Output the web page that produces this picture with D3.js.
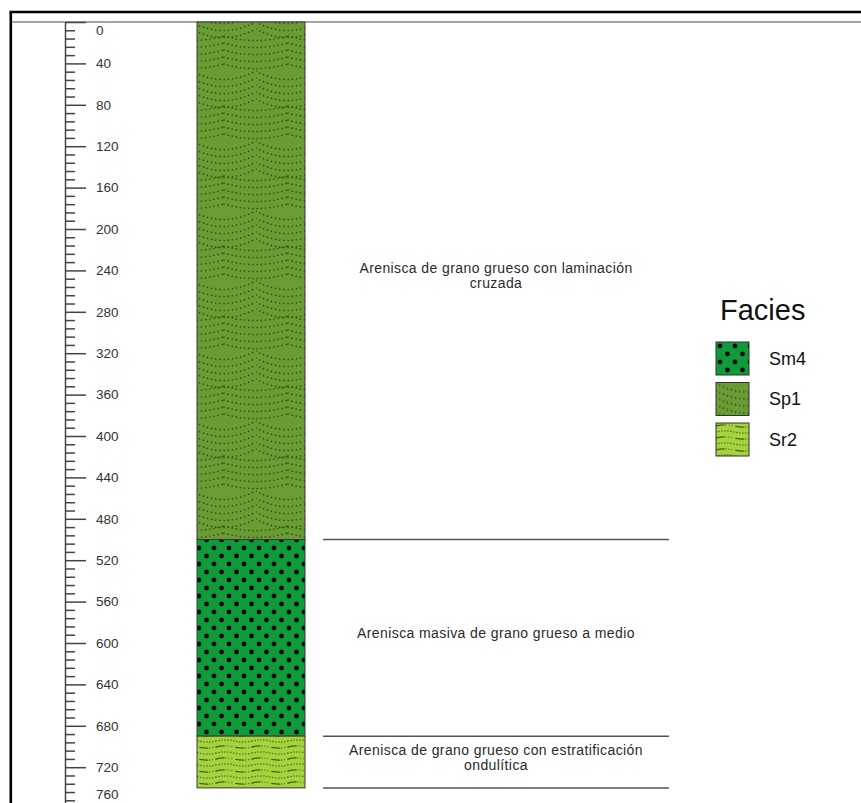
<!DOCTYPE html>
<html>
<head>
  <meta charset="UTF-8">
  <title>Columna estratigráfica</title>
  <script src="https://d3js.org/d3.v7.min.js"></script>
  <style>
    body {
      margin: 0;
      background: #fff;
      font-family: Arial, "Liberation Sans", sans-serif;
    }
    .axis text {
      font-size: 13.5px;
      fill: #333;
    }
    .axis line, .axis path {
      stroke: #444;
      stroke-width: 1.5;
    }
    .desc {
      font-size: 14px;
      letter-spacing: 0.4px;
      fill: #2a2a2a;
    }
    .layer {
      stroke: #3a3a3a;
      stroke-width: 1;
    }
  </style>
</head>
<body>
  <div id="chart"></div>
  <script>
    // layers, top to base (cm)
    const facies = ["Sp1", "Sm4", "Sr2"];
    const tops = [0, 500, 690];
    const bases = [500, 690, 740];
    const descriptions = [
      ["Arenisca de grano grueso con laminación", "cruzada"],
      ["Arenisca masiva de grano grueso a medio"],
      ["Arenisca de grano grueso con estratificación", "ondulítica"]
    ];

    // legend
    const legendTitle = "Facies";
    const legendItems = ["Sm4", "Sp1", "Sr2"];

    // depth axis
    const majorTicks = [0, 40, 80, 120, 160, 200, 240, 280, 320, 360, 400, 440, 480, 520, 560, 600, 640, 680, 720, 760];
    const minorStep = 8;

    const W = 861, H = 803;

    const svg = d3.select("#chart")
      .append("svg")
      .attr("width", W)
      .attr("height", H);

    svg.append("rect").attr("width", W).attr("height", H).attr("fill", "#fff");

    const y = d3.scaleLinear()
      .domain([0, 760])
      .range([22, 22 + 760 * 1.035]);

    const col = { x: 197, w: 108 };
    const descX = [323, 669];

    // ---- patterns ----
    const defs = svg.append("defs");

    // Sm4: massive, big black dots
    const pSm4 = defs.append("pattern")
      .attr("id", "pat-Sm4")
      .attr("patternUnits", "userSpaceOnUse")
      .attr("width", 15).attr("height", 16);
    pSm4.append("rect").attr("width", 15).attr("height", 16).attr("fill", "#109b3a");
    [[4, 4], [11.5, 12], [-3.5, 12]].forEach(p => {
      pSm4.append("circle").attr("cx", p[0]).attr("cy", p[1]).attr("r", 2.4).attr("fill", "#0a0a0a");
    });

    // Sp1: cross lamination, dotted arcs
    const pSp1 = defs.append("pattern")
      .attr("id", "pat-Sp1")
      .attr("patternUnits", "userSpaceOnUse")
      .attr("width", 64).attr("height", 70);
    pSp1.append("rect").attr("width", 64).attr("height", 70).attr("fill", "#6b9c34");
    [0, 1].forEach(s => {
      const offs = s === 0 ? [0] : [-32, 32];
      offs.forEach(xo => {
        d3.range(5).forEach(j => {
          const y0 = s * 35 + j * 7 + 1;
          const tilt = s === 0 ? 4 : -4;
          pSp1.append("path")
            .attr("d", `M${xo},${y0} Q${xo + 30},${y0 + 13 + tilt} ${xo + 64},${y0}`)
            .attr("fill", "none")
            .attr("stroke", "#2c5216")
            .attr("stroke-width", 1.7)
            .attr("stroke-linecap", "round")
            .attr("stroke-dasharray", "0 4.2");
        });
      });
    });

    // Sr2: ripples, wavy dotted and dashed lines
    const pSr2 = defs.append("pattern")
      .attr("id", "pat-Sr2")
      .attr("patternUnits", "userSpaceOnUse")
      .attr("width", 36).attr("height", 12);
    pSr2.append("rect").attr("width", 36).attr("height", 12).attr("fill", "#a6d23e");
    pSr2.append("path")
      .attr("d", "M0,3 Q9,0.8 18,3 T36,3")
      .attr("fill", "none").attr("stroke", "#3e6614").attr("stroke-width", 1.3)
      .attr("stroke-dasharray", "8 2 0 3 0 3 0 4")
      .attr("stroke-linecap", "round");
    pSr2.append("path")
      .attr("d", "M0,9 Q9,6.8 18,9 T36,9")
      .attr("fill", "none").attr("stroke", "#3e6614").attr("stroke-width", 1.5)
      .attr("stroke-linecap", "round").attr("stroke-dasharray", "0 3");

    // ---- frame ----
    svg.append("line")
      .attr("x1", 12).attr("x2", W).attr("y1", y(0)).attr("y2", y(0))
      .attr("stroke", "#888").attr("stroke-width", 1.3);
    svg.append("line")
      .attr("x1", 9.5).attr("x2", W).attr("y1", 12).attr("y2", 12)
      .attr("stroke", "#000").attr("stroke-width", 2.6);
    svg.append("line")
      .attr("x1", 10.8).attr("x2", 10.8).attr("y1", 12).attr("y2", H)
      .attr("stroke", "#000").attr("stroke-width", 2.6);

    // ---- depth axis ----
    const minorTicks = d3.range(0, 761, minorStep).filter(v => v % 40 !== 0);

    svg.append("g")
      .attr("class", "axis")
      .attr("transform", "translate(65,0)")
      .call(d3.axisRight(y).tickValues(minorTicks).tickSize(10).tickFormat(""))
      .call(g => g.select(".domain").remove());

    const yAxis = svg.append("g")
      .attr("class", "axis")
      .attr("transform", "translate(65,0)")
      .call(d3.axisRight(y).tickValues(majorTicks).tickSize(21).tickPadding(10).tickSizeOuter(0));

    // keep edge labels inside the frame
    yAxis.selectAll(".tick text")
      .attr("y", d => Math.min(Math.max(y(d), 30), 794) - y(d));

    // ---- column ----
    const layers = facies.map((f, i) => ({ f, top: tops[i], base: bases[i], desc: descriptions[i] }));

    svg.selectAll(".layer")
      .data(layers)
      .enter()
      .append("rect")
      .attr("class", "layer")
      .attr("x", col.x)
      .attr("y", d => y(d.top))
      .attr("width", col.w)
      .attr("height", d => y(d.base) - y(d.top))
      .attr("fill", d => `url(#pat-${d.f})`);

    // ---- descriptions ----
    svg.selectAll(".base-line")
      .data(layers)
      .enter()
      .append("line")
      .attr("class", "base-line")
      .attr("x1", descX[0]).attr("x2", descX[1])
      .attr("y1", d => y(d.base)).attr("y2", d => y(d.base))
      .attr("stroke", "#555").attr("stroke-width", 1.5);

    const lh = 15;
    const desc = svg.selectAll(".desc")
      .data(layers)
      .enter()
      .append("text")
      .attr("class", "desc")
      .attr("text-anchor", "middle")
      .attr("x", (descX[0] + descX[1]) / 2)
      .attr("y", d => (y(d.top) + y(d.base)) / 2 - (d.desc.length - 1) * lh / 2)
      .attr("dy", "0.35em");

    desc.selectAll("tspan")
      .data(d => d.desc)
      .enter()
      .append("tspan")
      .attr("x", (descX[0] + descX[1]) / 2)
      .attr("dy", (d, i) => i === 0 ? 0 : lh)
      .text(d => d);

    // ---- legend ----
    const lg = svg.append("g").attr("transform", "translate(716,0)");
    lg.append("text")
      .attr("x", 4).attr("y", 320)
      .attr("font-size", 29)
      .attr("fill", "#111")
      .text(legendTitle);

    const item = lg.selectAll(".item")
      .data(legendItems)
      .enter()
      .append("g")
      .attr("class", "item")
      .attr("transform", (d, i) => `translate(0,${342 + i * 40.5})`);

    item.append("rect")
      .attr("width", 33).attr("height", 33)
      .attr("fill", d => `url(#pat-${d})`)
      .attr("stroke", "#333").attr("stroke-width", 1);

    item.append("text")
      .attr("x", 53).attr("y", 16.5)
      .attr("dy", "0.35em")
      .attr("font-size", 18)
      .attr("fill", "#111")
      .text(d => d);
  </script>
</body>
</html>
